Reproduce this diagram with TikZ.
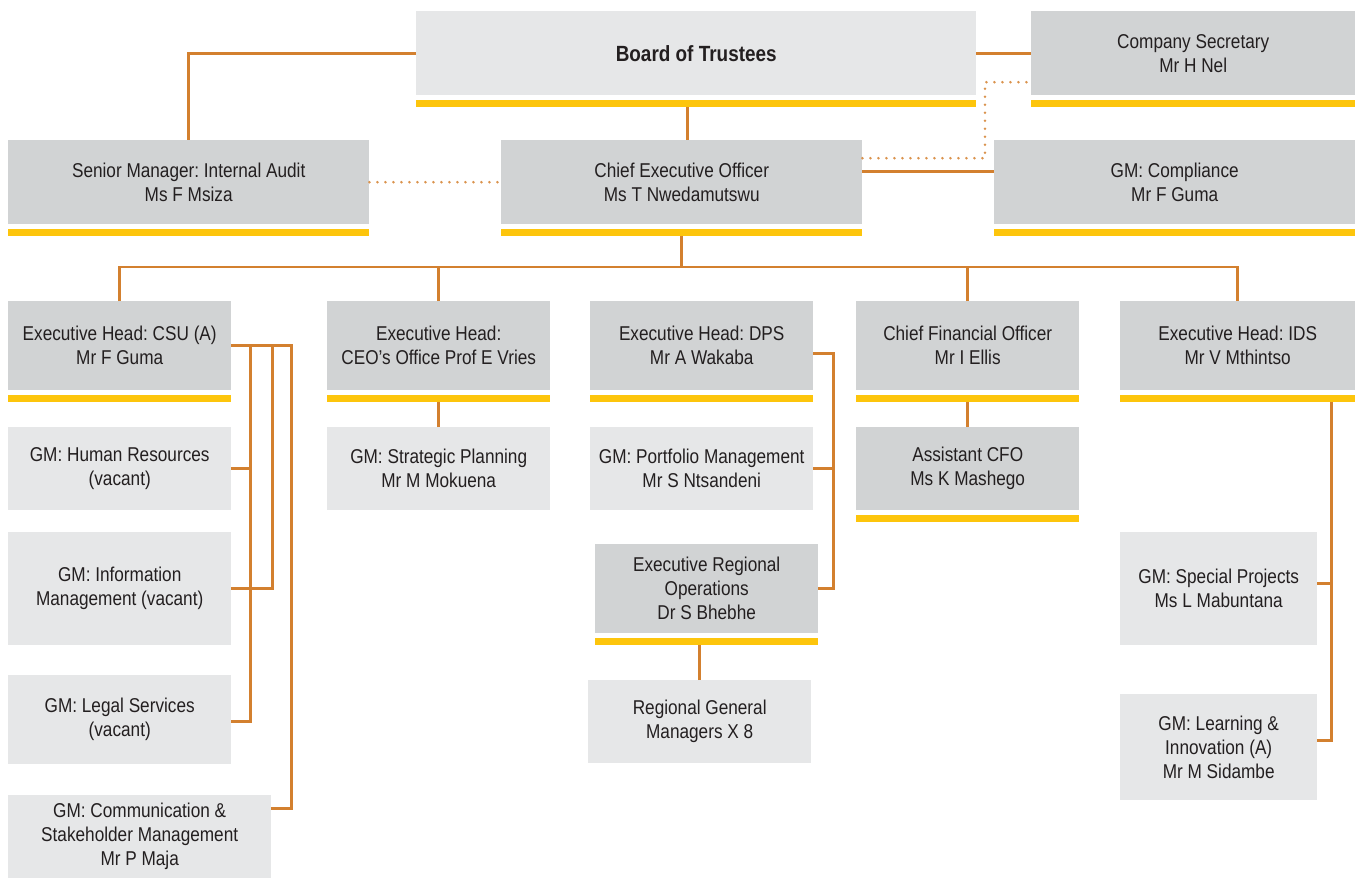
\documentclass[tikz,border=0pt]{standalone}
\usepackage{fontspec}
\setmainfont{Liberation Sans}[FakeStretch=0.86]
\usetikzlibrary{calc}
\definecolor{orgpale}{HTML}{E6E7E8}
\definecolor{orggrey}{HTML}{D1D3D4}
\definecolor{orgyellow}{HTML}{FDC50C}
\definecolor{orgline}{HTML}{D3802F}
\definecolor{orgink}{HTML}{231F20}
\frenchspacing
\tikzset{
  orgbox/.style={anchor=north west, align=center, inner sep=0pt, text=orgink, font=\fontsize{20}{24}\selectfont},
  pale/.style={orgbox, fill=orgpale},
  head/.style={orgbox, fill=orggrey},
  ybar/.style={fill=orgyellow},
  ln/.style={draw=orgline, line width=2.6pt},
  dotln/.style={draw=orgline!85, line width=2.8pt, line cap=round, dash pattern=on 0pt off 8pt},
}

\begin{document}
\begin{tikzpicture}[x=1pt, y=-1pt]
  \useasboundingbox (0,0) rectangle (1360,878);
  % top rows
  \node (board) [pale, minimum width=560, minimum height=84, font=\fontsize{22}{24}\selectfont\bfseries] at (416,11) {Board of Trustees};
  \node (sec) [head, minimum width=324, minimum height=84] at (1031,11) {Company Secretary\\Mr H Nel};
  \node (audit) [head, minimum width=361, minimum height=84] at (8,140) {Senior Manager: Internal Audit\\Ms F Msiza};
  \node (ceo) [head, minimum width=361, minimum height=84] at (501,140) {Chief Executive Officer\\Ms T Nwedamutswu};
  \node (comp) [head, minimum width=361, minimum height=84] at (994,140) {GM: Compliance\\Mr F Guma};
  % executive heads
  \node (csu) [head, minimum width=223, minimum height=89] at (8,301) {Executive Head: CSU (A)\\Mr F Guma};
  \node (office) [head, minimum width=223, minimum height=89] at (327,301) {Executive Head:\\CEO’s Office Prof E Vries};
  \node (dps) [head, minimum width=223, minimum height=89] at (590,301) {Executive Head: DPS\\Mr A Wakaba};
  \node (cfo) [head, minimum width=223, minimum height=89] at (856,301) {Chief Financial Officer\\Mr I Ellis};
  \node (ids) [head, minimum width=235, minimum height=89] at (1120,301) {Executive Head: IDS\\Mr V Mthintso};
  % general managers
  \node (hr) [pale, minimum width=223, minimum height=83] at (8,427) {GM: Human Resources\\(vacant)};
  \node (info) [pale, minimum width=223, minimum height=113] at (8,532) {GM: Information\\Management (vacant)};
  \node (legal) [pale, minimum width=223, minimum height=89] at (8,675) {GM: Legal Services\\(vacant)};
  \node (comm) [pale, minimum width=263, minimum height=83] at (8,795) {GM: Communication \&\\Stakeholder Management\\Mr P Maja};
  \node (strat) [pale, minimum width=223, minimum height=83] at (327,427) {GM: Strategic Planning\\Mr M Mokuena};
  \node (port) [pale, minimum width=223, minimum height=83] at (590,427) {GM: Portfolio Management\\Mr S Ntsandeni};
  \node (ero) [head, minimum width=223, minimum height=89] at (595,544) {Executive Regional\\Operations\\Dr S Bhebhe};
  \node (regional) [pale, minimum width=223, minimum height=83] at (588,680) {Regional General\\Managers X 8};
  \node (acfo) [head, minimum width=223, minimum height=83] at (856,427) {Assistant CFO\\Ms K Mashego};
  \node (special) [pale, minimum width=197, minimum height=113] at (1120,532) {GM: Special Projects\\Ms L Mabuntana};
  \node (learn) [pale, minimum width=197, minimum height=106] at (1120,694) {GM: Learning \&\\Innovation (A)\\Mr M Sidambe};
  % yellow bars under the boxes
  \foreach \n in {board,sec,audit,ceo,comp,csu,office,dps,cfo,ids,ero,acfo} {
    \fill[ybar] ($(\n.south west)+(0,5)$) rectangle ($(\n.south east)+(0,12)$);
    \coordinate (\n-b) at ($(\n.south)+(0,12)$);
  }
  % board level
  \draw[ln] (board.west) -| (audit.north);
  \draw[ln] (board.east) -- (sec.west);
  \draw[ln] ([xshift=-9pt]board-b) -- ([xshift=-9pt]board-b |- ceo.north);
  \draw[dotln] (audit.east) -- (ceo.west);
  \draw[dotln] ([yshift=24pt]ceo.east) -| ([xshift=-46pt,yshift=-29pt]sec.west) -- ([yshift=-29pt]sec.west);
  \draw[ln] ([yshift=11pt]ceo.east) -- ([yshift=11pt]comp.west);
  % bus to executive heads
  \coordinate (bus) at (681,267);
  \draw[ln] (csu.north) |- (bus) -| (ids.north);
  \draw[ln] (ceo-b) -- (ceo-b |- bus);
  \draw[ln] (office.north) -- (office.north |- bus);
  \draw[ln] (cfo.north) -- (cfo.north |- bus);
  % CSU
  \coordinate (k1) at ([xshift=19pt]csu.east);
  \coordinate (k2) at ([xshift=41pt]csu.east);
  \coordinate (k3) at ([xshift=60pt]csu.east);
  \draw[ln] (csu.east) -- (k3) |- ([yshift=28pt]comm.east);
  \draw[ln] (k1) |- ([yshift=-2pt]legal.east);
  \draw[ln] (k2) |- (info.east);
  \draw[ln] (hr.east) -- (hr.east -| k1);
  % CEO's office, CFO
  \draw[ln] (strat.north) -- (strat.north |- office-b);
  \draw[ln] (acfo.north) -- (acfo.north |- cfo-b);
  % DPS
  \coordinate (dk) at ([xshift=20pt,yshift=-8pt]dps.east);
  \draw[ln] (dps.east |- dk) -- (dk) |- (ero.east);
  \draw[ln] (port.east) -- (port.east -| dk);
  \draw[ln] (regional.north) -- (regional.north |- ero-b);
  % IDS
  \coordinate (ik) at ([xshift=94pt]ids-b);
  \draw[ln] (ik) |- ([yshift=7pt]learn.east);
  \draw[ln] ([yshift=5pt]special.east) -- ([yshift=5pt]special.east -| ik);
\end{tikzpicture}
\end{document}
